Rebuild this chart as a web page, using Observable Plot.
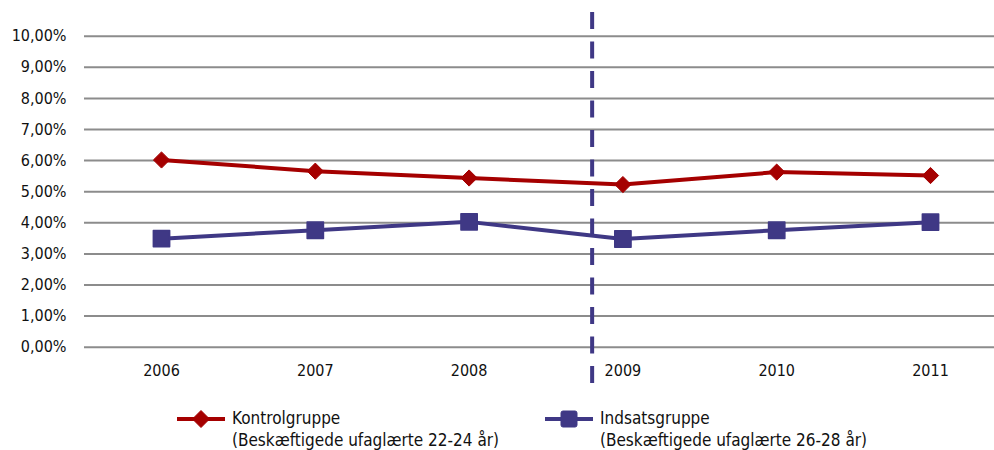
<!DOCTYPE html>
<html>
<head>
<meta charset="utf-8">
<script src="https://cdn.jsdelivr.net/npm/d3@7"></script>
<script src="https://cdn.jsdelivr.net/npm/@observablehq/plot@0.6"></script>
<style>
  html, body { margin: 0; padding: 0; background: #fff; }
  #wrap { position: relative; width: 994px; height: 450px; overflow: hidden;
          font-family: "DejaVu Sans Condensed", "DejaVu Sans", sans-serif; font-stretch: condensed; }
  #chart svg { display: block; }
  .leg { position: absolute; font-size: 17px; line-height: 22px; color: #111; white-space: nowrap; }
  .sym { position: absolute; }
</style>
</head>
<body>
<div id="wrap">
  <div id="chart"></div>
  <svg class="sym" style="left:177px;top:409px" width="50" height="20">
    <line x1="0" x2="48" y1="10" y2="10" stroke="#A50000" stroke-width="4"/>
    <path d="M24,1.5L32.5,10L24,18.5L15.5,10Z" fill="#A50000" stroke="#A50000" stroke-width="1" stroke-linejoin="round"/>
  </svg>
  <div class="leg" id="leg1" style="left:232px;top:407px"></div>
  <svg class="sym" style="left:545px;top:409px" width="50" height="20">
    <line x1="0" x2="48" y1="10" y2="10" stroke="#3F3885" stroke-width="4"/>
    <rect x="16" y="2" width="16" height="16" rx="2" fill="#3F3885" stroke="#3F3885" stroke-width="1"/>
  </svg>
  <div class="leg" id="leg2" style="left:600px;top:407px"></div>
</div>
<script>
// ---- data ----
const years = [2006, 2007, 2008, 2009, 2010, 2011];
const kontrolValues = [6.02, 5.66, 5.44, 5.23, 5.63, 5.52];
const indsatsValues = [3.49, 3.76, 4.03, 3.48, 3.76, 4.02];
const yTicks = [0, 1, 2, 3, 4, 5, 6, 7, 8, 9, 10];
const seriesNames = ["Kontrolgruppe", "Indsatsgruppe"];
const seriesSubtitles = ["(Beskæftigede ufaglærte 22-24 år)", "(Beskæftigede ufaglærte 26-28 år)"];
const breakYear = [2008.8];
const breakSpan = [10.76, -1.17];

const red = "#A50000";
const purple = "#3F3885";

const kontrol = years.map((y, i) => ({year: y, value: kontrolValues[i]}));
const indsats = years.map((y, i) => ({year: y, value: indsatsValues[i]}));

const chart = Plot.plot({
  width: 994,
  height: 395,
  marginLeft: 84,
  marginRight: 0,
  marginTop: 35.7,
  marginBottom: 48.3,
  style: {
    fontFamily: '"DejaVu Sans Condensed", "DejaVu Sans", sans-serif',
    fontStretch: "condensed",
    fontSize: "16px",
    color: "#111",
    background: "#fff",
    overflow: "visible"
  },
  x: {
    type: "linear",
    domain: [2006, 2011],
    range: [161, 930],
    ticks: years,
    tickFormat: d => String(d),
    tickSize: 0,
    tickPadding: 17,
    label: null
  },
  y: {
    domain: [0, 10],
    ticks: yTicks,
    tickFormat: d => d.toFixed(2).replace(".", ",") + "%",
    tickSize: 0,
    tickPadding: 18,
    label: null
  },
  marks: [
    Plot.ruleY(yTicks, {stroke: "#8c8c8c", strokeWidth: 2}),
    Plot.ruleX(breakYear, {y1: breakSpan[0], y2: breakSpan[1], stroke: purple, strokeWidth: 4, strokeDasharray: "17 12.5", clip: false}),
    Plot.line(kontrol, {x: "year", y: "value", stroke: red, strokeWidth: 4}),
    Plot.line(indsats, {x: "year", y: "value", stroke: purple, strokeWidth: 4}),
    Plot.dot(kontrol, {x: "year", y: "value", symbol: "diamond2", r: 7.3, fill: red, stroke: red, strokeWidth: 1}),
    Plot.dot(indsats, {x: "year", y: "value", symbol: "square", r: 9.2, fill: purple, stroke: purple, strokeWidth: 1.5, strokeLinejoin: "round"})
  ]
});
document.getElementById("chart").appendChild(chart);
document.getElementById("leg1").innerHTML = seriesNames[0] + "<br>" + seriesSubtitles[0];
document.getElementById("leg2").innerHTML = seriesNames[1] + "<br>" + seriesSubtitles[1];
</script>
</body>
</html>
